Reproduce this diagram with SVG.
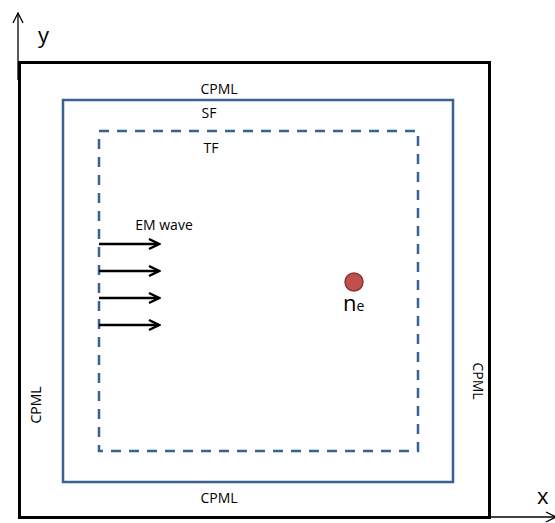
<svg xmlns="http://www.w3.org/2000/svg" width="555" height="523" viewBox="0 0 555 523">
<defs>
<style>
.lbl{font-family:"Open Sans","Liberation Sans",sans-serif;font-size:14px;fill:#000}
.ax{font-family:"Open Sans","Liberation Sans",sans-serif;font-size:22px;fill:#000}
.blue{fill:none;stroke:#3A6193;stroke-width:2.5}
.arr{stroke:#000;stroke-width:2.5;fill:none}
</style>
<marker id="head" viewBox="0 0 14 14" refX="12" refY="7" markerWidth="14" markerHeight="14" markerUnits="userSpaceOnUse" orient="auto">
<path d="M2,2 L12,7 L2,12" fill="none" stroke="#000" stroke-width="2.5"/>
</marker>
<marker id="axhead" viewBox="0 0 12 12" refX="11" refY="6" markerWidth="12" markerHeight="12" markerUnits="userSpaceOnUse" orient="auto">
<path d="M1,1 L11,6 L1,11" fill="none" stroke="#000" stroke-width="1.3"/>
</marker>
</defs>
<rect width="555" height="523" fill="#fff"/>
<g id="axes">
<line x1="18" y1="80" x2="18" y2="13" stroke="#000" stroke-width="1.3" marker-end="url(#axhead)"/>
<line x1="480" y1="517" x2="556" y2="517" stroke="#000" stroke-width="1.3" marker-end="url(#axhead)"/>
<text class="ax" x="38" y="43">y</text>
<text class="ax" x="537" y="504">x</text>
</g>
<g id="outer">
<rect x="19.5" y="62.5" width="470" height="455" fill="none" stroke="#000" stroke-width="3"/>
<text class="lbl" x="219" y="94" text-anchor="middle">CPML</text>
<text class="lbl" x="219" y="503" text-anchor="middle">CPML</text>
<text class="lbl" transform="translate(41,405) rotate(-90)" text-anchor="middle">CPML</text>
<text class="lbl" transform="translate(473,381) rotate(90)" text-anchor="middle">CPML</text>
</g>
<g id="sf">
<rect class="blue" x="63" y="100" width="390" height="382"/>
<text class="lbl" x="209" y="118" text-anchor="middle">SF</text>
</g>
<g id="tf">
<rect class="blue" x="99" y="131" width="319" height="320" stroke-dasharray="10,8"/>
<text class="lbl" x="211" y="153" text-anchor="middle">TF</text>
</g>
<g id="wave">
<text class="lbl" x="164" y="230" text-anchor="middle">EM wave</text>
</g>
<g id="connectors">
<line class="arr" x1="99" y1="244" x2="159" y2="244" marker-end="url(#head)"/>
<line class="arr" x1="99" y1="271" x2="159" y2="271" marker-end="url(#head)"/>
<line class="arr" x1="99" y1="298" x2="159" y2="298" marker-end="url(#head)"/>
<line class="arr" x1="99" y1="325" x2="159" y2="325" marker-end="url(#head)"/>
</g>
<g id="ne">
<circle cx="354" cy="282" r="9" fill="#C0504D" stroke="#8C3836" stroke-width="1.5"/>
<text x="343" y="311" font-family="'Open Sans','Liberation Sans',sans-serif" font-size="22" fill="#000">n<tspan font-size="14">e</tspan></text>
</g>
</svg>
